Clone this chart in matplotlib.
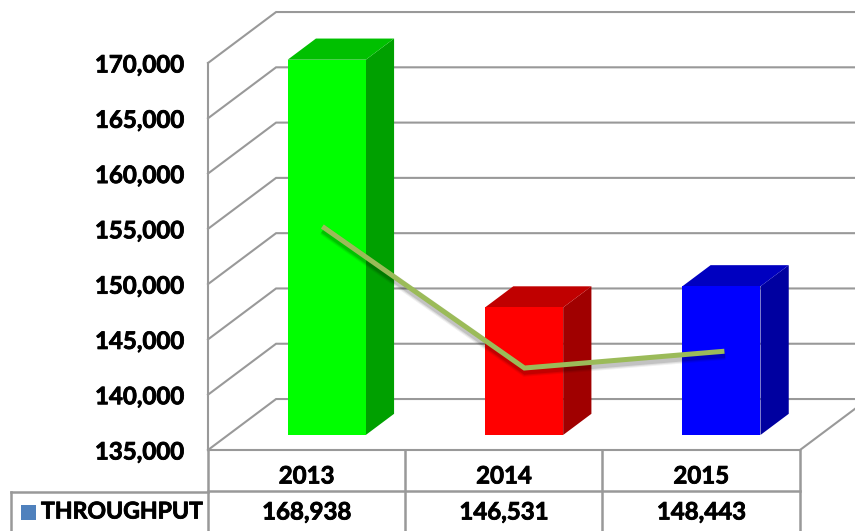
import matplotlib
matplotlib.use('Agg')
import matplotlib.pyplot as plt
import matplotlib.patheffects as pe
from matplotlib.patches import Rectangle

years = ['2013', '2014', '2015']
throughput = [168938, 146531, 148443]
trend = [153830, 141030, 142550]
ticks = [135000, 140000, 145000, 150000, 155000, 160000, 165000, 170000]
series_name = 'THROUGHPUT'

front = ['#00FF00', '#FF0000', '#0000FF']
side = ['#00A000', '#A00000', '#0000A0']
top = ['#00C000', '#C00000', '#0000C0']
grid = '#999999'

plt.rcParams['font.family'] = ['Lato', 'DejaVu Sans']
plt.rcParams['font.weight'] = 'bold'

# lato bold is a little lighter than the original, thicken it a bit
heavy = [pe.withStroke(linewidth=0.6, foreground='black')]

W, H = 855, 531
fig = plt.figure(figsize=(W / 100, H / 100), dpi=100)

# overlay in pixels for the table lines under the chart
tb = fig.add_axes([0, 0, 1, 1])
tb.set_xlim(0, W)
tb.set_ylim(H, 0)
tb.axis('off')

ax = fig.add_axes([208 / W, (H - 450) / H, 592 / W, 387 / H])
ax.patch.set_alpha(0)
ax.set_xlim(0, 3)
ax.set_ylim(135000, 170000)
for s in ax.spines.values():
    s.set_visible(False)

# depth of the 3d box, in data units
DX = 0.345
DY = 4610
Y0 = 135000
GLW = 1.5


def proj(x, y, d):
    return x + d * DX, y + d * DY


# back wall, left wall, floor
for t in ticks:
    x0, y0 = proj(0, t, 0)
    x1, y1 = proj(0, t, 1)
    x2, y2 = proj(3.4, t, 1)
    ax.plot([x0, x1, x2], [y0, y1, y2], color=grid, lw=GLW, clip_on=False, zorder=1,
            solid_joinstyle='miter')
ax.plot([0, 0], [135000, 170000], color=grid, lw=GLW, clip_on=False, zorder=1)
ax.plot([0, 3], [Y0, Y0], color=grid, lw=GLW, clip_on=False, zorder=1)
x1, y1 = proj(3, Y0, 1)
ax.plot([3, x1], [Y0, y1], color=grid, lw=GLW, clip_on=False, zorder=1)

# bars
d0, d1 = 0.295, 0.71
half = 0.198
for i, v in enumerate(throughput):
    left = i + 0.5 - half
    right = i + 0.5 + half
    a = [proj(left, Y0, d0), proj(right, Y0, d0), proj(right, v, d0), proj(left, v, d0)]
    b = [proj(right, Y0, d0), proj(right, Y0, d1), proj(right, v, d1), proj(right, v, d0)]
    c = [proj(left, v, d0), proj(right, v, d0), proj(right, v, d1), proj(left, v, d1)]
    ax.fill(*zip(*b), color=side[i], lw=0, clip_on=False, zorder=3)
    ax.fill(*zip(*c), color=top[i], lw=0, clip_on=False, zorder=3)
    ax.fill(*zip(*a), color=front[i], lw=0, clip_on=False, zorder=4)

# trend line sits a bit off the category centres
shift = [-0.024, 0.0, 0.0135]
lx = [i + 0.5 + shift[i] for i in range(3)]
lp = [proj(lx[i], trend[i], 0.3) for i in range(3)]
shadow = []
for w, a in [(7.5, 0.06), (6, 0.08), (4.5, 0.12)]:
    shadow.append(pe.SimpleLineShadow(offset=(0.5, -2.5), shadow_color='black', alpha=a, linewidth=w))
ax.plot([p[0] for p in lp], [p[1] for p in lp], color='#9BBB59', lw=3.6, clip_on=False, zorder=6,
        solid_capstyle='butt', solid_joinstyle='miter', path_effects=shadow + [pe.Normal()])

ax.set_yticks(ticks)
labels = ax.set_yticklabels(['{:,}'.format(t) for t in ticks], fontsize=17.3, fontweight='bold')
for lab in labels:
    lab.set_path_effects(heavy)
ax.tick_params(axis='y', length=0, pad=17)
ax.set_xticks([])

# data table
for x in [208, 405, 602, 800]:
    tb.plot([x, x], [450, H], color=grid, lw=1.8)
tb.plot([208, 800], [490.5, 490.5], color=grid, lw=1.8)
tb.plot([11, 208], [492, 492], color=grid, lw=1.8)
tb.plot([11, 11], [492, H], color=grid, lw=1.8)
tb.add_patch(Rectangle((21, 505), 15, 15, color='#4F81BD', lw=0))
tb.text(41, 512, series_name, fontsize=16.6, fontweight='bold', va='center', ha='left', path_effects=heavy)
for i in range(3):
    px = ax.transData.transform((i + 0.5, Y0))[0]
    tb.text(px, 476, years[i], fontsize=17.3, fontweight='bold', ha='center', va='center', path_effects=heavy)
    tb.text(px, 512, '{:,}'.format(throughput[i]), fontsize=17.3, fontweight='bold', ha='center', va='center',
            path_effects=heavy)

fig.savefig('out.png', dpi=100)
